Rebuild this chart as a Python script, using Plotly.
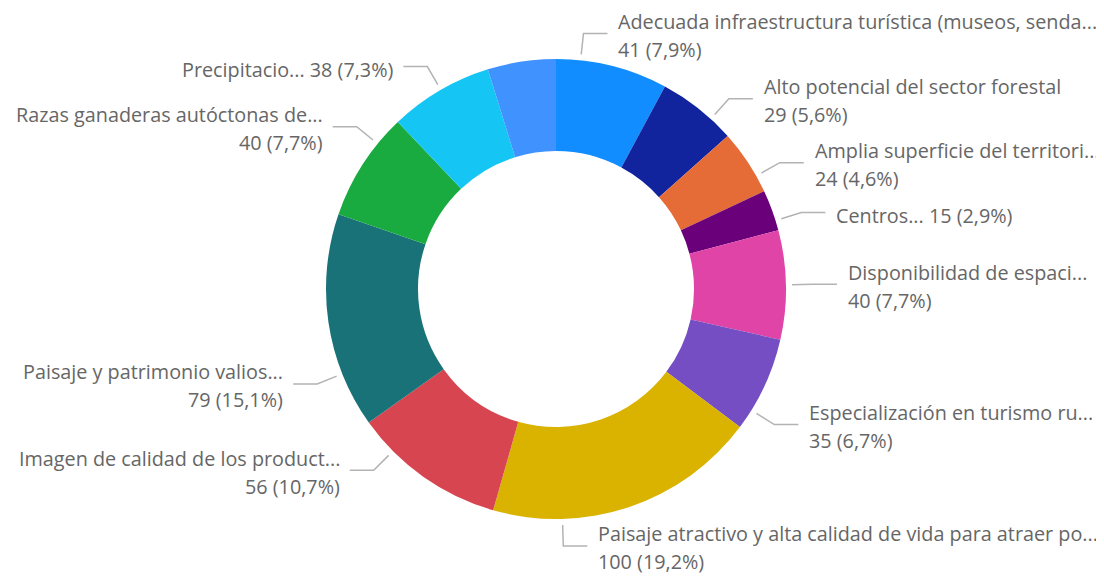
import math
import plotly.graph_objects as go

# slices, clockwise from 12 o'clock
labels = [
    "Adecuada infraestructura turística (museos, senda...",
    "Alto potencial del sector forestal",
    "Amplia superficie del territori...",
    "Centros...",
    "Disponibilidad de espaci...",
    "Especialización en turismo ru...",
    "Paisaje atractivo y alta calidad de vida para atraer po...",
    "Imagen de calidad de los product...",
    "Paisaje y patrimonio valios...",
    "Razas ganaderas autóctonas de...",
    "Precipitacio...",
    "Otros",
]
values = [41, 29, 24, 15, 40, 35, 100, 56, 79, 40, 38, 25]
colors = ["#118DFF", "#12239E", "#E66C37", "#6B007B", "#E044A7", "#744EC2",
          "#D9B300", "#D64550", "#197278", "#1AAB40", "#15C6F4", "#4092FF"]

# label layout: shift of the leader angle from the slice middle (deg), None = no label
label_nudge = [-8, 4, 4, 2.7, 0, 7, 17, 10, -13.4, 6.4, 0.3, None]
single_line = [False, False, False, True, False, False, False, False, False, False, True, False]

# page body has an 8px margin, so the figure is drawn 8px in from the window edge
OFF = 8
W, H = 1104 - OFF, 576 - OFF
cx, cy, R = 556 - OFF, 289 - OFF, 230
font = "Segoe UI, Open Sans, sans-serif"

fig = go.Figure(go.Pie(
    labels=labels, values=values, hole=0.6, sort=False, direction="clockwise",
    marker=dict(colors=colors, line=dict(width=0)), textinfo="none",
    showlegend=False,
    domain=dict(x=[(cx - R) / W, (cx + R) / W], y=[1 - (cy + R) / H, 1 - (cy - R) / H]),
))

def px(x, y):
    return x / W, 1 - y / H

total = sum(values)
shapes, annotations = [], []
cum = 0
for lab, v, nudge, single in zip(labels, values, label_nudge, single_line):
    mid = (cum + v / 2) / total * 360
    cum += v
    if nudge is None:
        continue
    a = math.radians(mid + nudge)
    sx, sy = cx + (R + 6) * math.sin(a), cy - (R + 6) * math.cos(a)
    ex, ey = cx + (R + 27) * math.sin(a), cy - (R + 27) * math.cos(a)
    right = math.sin(a) >= -0.05
    hx = ex + 24 if right else ex - 24
    pts = [px(sx, sy), px(ex, ey), px(hx, ey)]
    shapes.append(dict(type="path", xref="paper", yref="paper",
                       path="M {} {} L {} {} L {} {}".format(*[c for p in pts for c in p]),
                       line=dict(color="#B3B3B3", width=1.5)))
    tx = hx + 9 if right else hx - 8
    pct = f"{v / total * 100:.1f}".replace(".", ",")
    anchor = "left" if right else "right"
    tfont = dict(family=font, size=19.8, color="#666666")
    if single:
        x, y = px(tx, ey + 3)
        annotations.append(dict(x=x, y=y, xref="paper", yref="paper", text=f"{lab} {v} ({pct}%)",
                                showarrow=False, xanchor=anchor, yanchor="middle", font=tfont))
    else:
        x, y = px(tx, ey - 12)
        annotations.append(dict(x=x, y=y, xref="paper", yref="paper", text=lab,
                                showarrow=False, xanchor=anchor, yanchor="middle", font=tfont))
        x, y = px(tx, ey + 16)
        annotations.append(dict(x=x, y=y, xref="paper", yref="paper", text=f"{v} ({pct}%)",
                                showarrow=False, xanchor=anchor, yanchor="middle", font=tfont))

fig.update_layout(
    width=W, height=H, margin=dict(l=0, r=0, t=0, b=0),
    paper_bgcolor="white", plot_bgcolor="white",
    shapes=shapes, annotations=annotations,
)
fig.write_html("out.html")
